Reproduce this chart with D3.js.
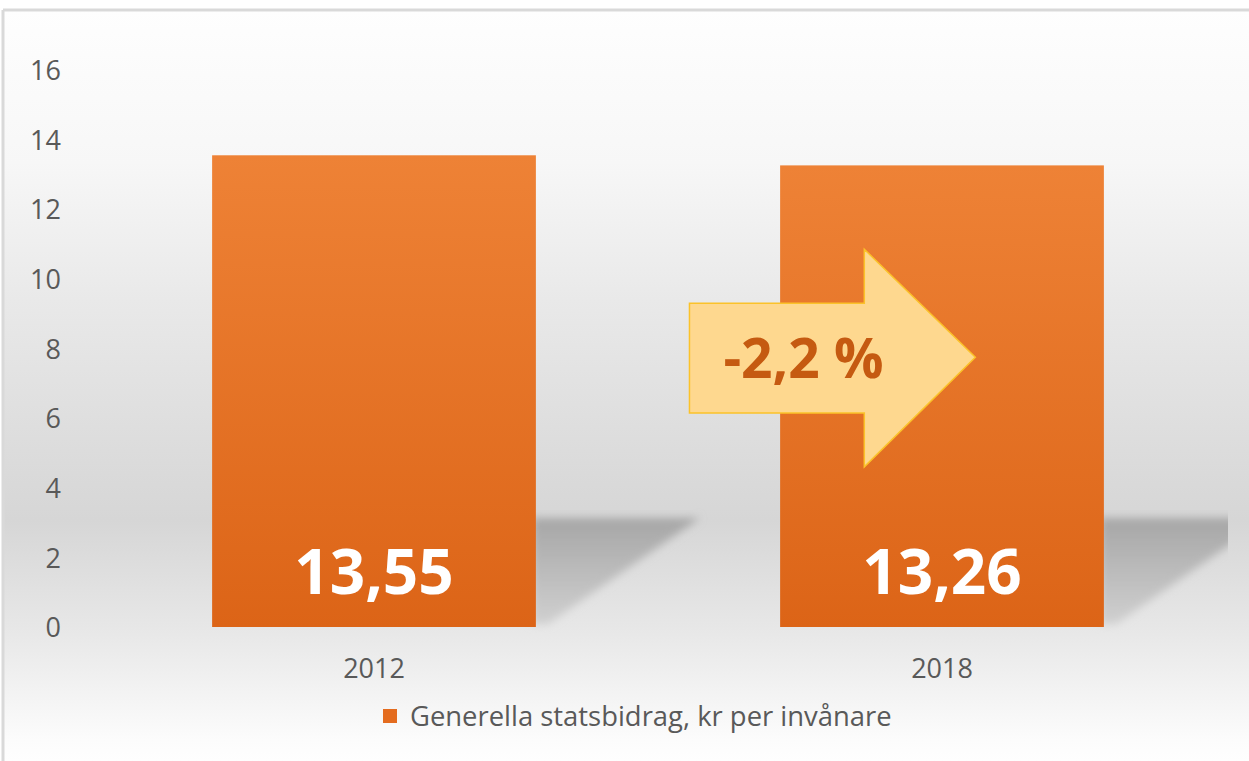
<!DOCTYPE html>
<html>
<head>
<meta charset="utf-8">
<script src="https://cdn.jsdelivr.net/npm/d3@7"></script>
<style>
  body { margin:0; background:#ffffff; overflow:hidden; }
  svg { display:block; font-family:"Open Sans","Noto Sans",sans-serif; }
</style>
</head>
<body>
<svg width="1249" height="761"></svg>
<script>
// chart data
var years = ["2012", "2018"]
var values = [13.55, 13.26]
var valueLabels = ["13,55", "13,26"]
var yTicks = [0, 2, 4, 6, 8, 10, 12, 14, 16]
var seriesName = "Generella statsbidrag, kr per invånare"
var changeLabel = "-2,2 %"

var makeTranslateString = function(x,y)
{
    return "translate("+x+","+y+")";
}

var drawChart = function()
{
    var screen = {width:1249, height:761}
    var svg = d3.select("svg")

    var defs = svg.append("defs")

    // background of the chart area: white -> grey -> white
    var bg = defs.append("linearGradient")
        .attr("id","bgGrad")
        .attr("x1",0).attr("y1",0).attr("x2",0).attr("y2",1)
    var bgStops = [[0,"#fefefe"],[0.2,"#f7f7f7"],[0.38,"#e9e9e9"],[0.67,"#d6d6d6"],[0.82,"#e8e8e8"],[0.96,"#fcfcfc"],[1,"#ffffff"]]
    bgStops.forEach(function(s){
        bg.append("stop").attr("offset",s[0]).attr("stop-color",s[1])
    })

    var barGrad = defs.append("linearGradient")
        .attr("id","barGrad")
        .attr("x1",0).attr("y1",0).attr("x2",0).attr("y2",1)
    barGrad.append("stop").attr("offset",0).attr("stop-color","#ee8236")
    barGrad.append("stop").attr("offset",1).attr("stop-color","#dc6417")

    var shadowGrad = defs.append("linearGradient")
        .attr("id","shadowGrad")
        .attr("x1",0).attr("y1",0).attr("x2",0).attr("y2",1)
    shadowGrad.append("stop").attr("offset",0).attr("stop-color","#a6a6a6")
    shadowGrad.append("stop").attr("offset",1).attr("stop-color","#d0d0d0")

    defs.append("filter").attr("id","blur")
        .attr("x","-20%").attr("y","-20%").attr("width","140%").attr("height","140%")
        .append("feGaussianBlur").attr("stdDeviation",4)

    var xScale = d3.scaleBand()
        .domain(years)
        .range([90,1226])
        .paddingInner(0.43)
        .paddingOuter(0.215)

    var yScale = d3.scaleLinear()
        .domain([0,16])
        .range([627,70])

    // plot area clip for the shadows
    defs.append("clipPath").attr("id","plotClip")
        .append("rect")
        .attr("x",0).attr("y",0)
        .attr("width",xScale.range()[1]+2).attr("height",screen.height)

    // chart area
    svg.append("rect")
        .attr("x",3).attr("y",10)
        .attr("width",screen.width+10).attr("height",screen.height)
        .attr("fill","url(#bgGrad)")
    svg.append("line")
        .attr("x1",3).attr("y1",10).attr("x2",screen.width+5).attr("y2",10)
        .style("stroke","#d9d9d9").style("stroke-width",3)
    svg.append("line")
        .attr("x1",3).attr("y1",10).attr("x2",3).attr("y2",screen.height+5)
        .style("stroke","#d9d9d9").style("stroke-width",3)

    // y axis labels (no line)
    var yAxis = d3.axisLeft(yScale)
        .tickValues(yTicks)
        .tickSize(0)
        .tickPadding(0)
    var yAxisG = svg.append("g")
        .attr("transform",makeTranslateString(61,0))
        .call(yAxis)
    yAxisG.select(".domain").remove()
    yAxisG.selectAll("text")
        .attr("font-family","'Open Sans','Noto Sans',sans-serif")
        .attr("font-size",27)
        .attr("fill","#595959")
        .attr("dy","0.36em")

    // x axis labels
    var xAxis = d3.axisBottom(xScale).tickSize(0).tickPadding(0)
    var xAxisG = svg.append("g")
        .attr("transform",makeTranslateString(0,yScale(0)))
        .call(xAxis)
    xAxisG.select(".domain").remove()
    xAxisG.selectAll("text")
        .attr("font-family","'Open Sans','Noto Sans',sans-serif")
        .attr("font-size",27)
        .attr("fill","#595959")
        .attr("y",51)
        .attr("dy",0)

    // perspective shadows behind bars
    var base = yScale(0)
    svg.append("g")
        .attr("clip-path","url(#plotClip)")
        .selectAll("polygon")
        .data(years)
        .enter()
        .append("polygon")
        .attr("points",function(d)
        {
            var x1 = xScale(d)+xScale.bandwidth()
            return [[x1-4,base-109],[x1+164,base-109],[x1+12,base-3],[x1-4,base-3]]
                .map(function(p){return p.join(",")}).join(" ")
        })
        .attr("fill","url(#shadowGrad)")
        .attr("filter","url(#blur)")

    // bars
    svg.append("g")
        .selectAll("rect")
        .data(values)
        .enter()
        .append("rect")
        .attr("x",function(d,i){return xScale(years[i])})
        .attr("y",function(d){return yScale(d)})
        .attr("width",xScale.bandwidth())
        .attr("height",function(d){return yScale(0)-yScale(d)})
        .attr("fill","url(#barGrad)")

    // value labels inside the bars
    svg.append("g")
        .selectAll("text")
        .data(valueLabels)
        .enter()
        .append("text")
        .text(function(d){return d})
        .attr("x",function(d,i){return xScale(years[i])+xScale.bandwidth()/2})
        .attr("y",yScale(0)-33)
        .attr("text-anchor","middle")
        .attr("font-size",62)
        .attr("font-weight","bold")
        .attr("fill","#ffffff")

    // change arrow
    var bx = xScale(years[1])
    var bw = xScale.bandwidth()
    var arrowPts = [
        [bx-0.28*bw, yScale(9.3)],
        [bx+0.26*bw, yScale(9.3)],
        [bx+0.26*bw, yScale(10.85)],
        [bx+0.603*bw, yScale(7.75)],
        [bx+0.26*bw, yScale(4.6)],
        [bx+0.26*bw, yScale(6.15)],
        [bx-0.28*bw, yScale(6.15)]
    ]
    svg.append("polygon")
        .attr("points",arrowPts.map(function(p){return p.join(",")}).join(" "))
        .attr("fill","#fed88f")
        .style("stroke","#fbc22a")
        .style("stroke-width",1.5)

    svg.append("text")
        .text(changeLabel)
        .attr("x",bx-0.28*bw+114)
        .attr("y",yScale(7.75)+21)
        .attr("text-anchor","middle")
        .attr("font-size",55)
        .attr("font-weight","bold")
        .attr("fill","#c55a11")

    // legend
    var legend = svg.append("g")
        .classed("legend",true)
        .attr("transform",makeTranslateString(383,709))
    legend.append("rect")
        .attr("width",14)
        .attr("height",14)
        .attr("fill","#e46c1f")
    var legendText = legend.append("text")
        .text(seriesName)
        .attr("x",27)
        .attr("y",17)
        .attr("font-size",24)
        .attr("fill","#595959")
    // keep legend text about as wide as the original
    var len = legendText.node().getComputedTextLength()
    legendText.attr("font-size",24*482/len)
}

drawChart()
</script>
</body>
</html>
